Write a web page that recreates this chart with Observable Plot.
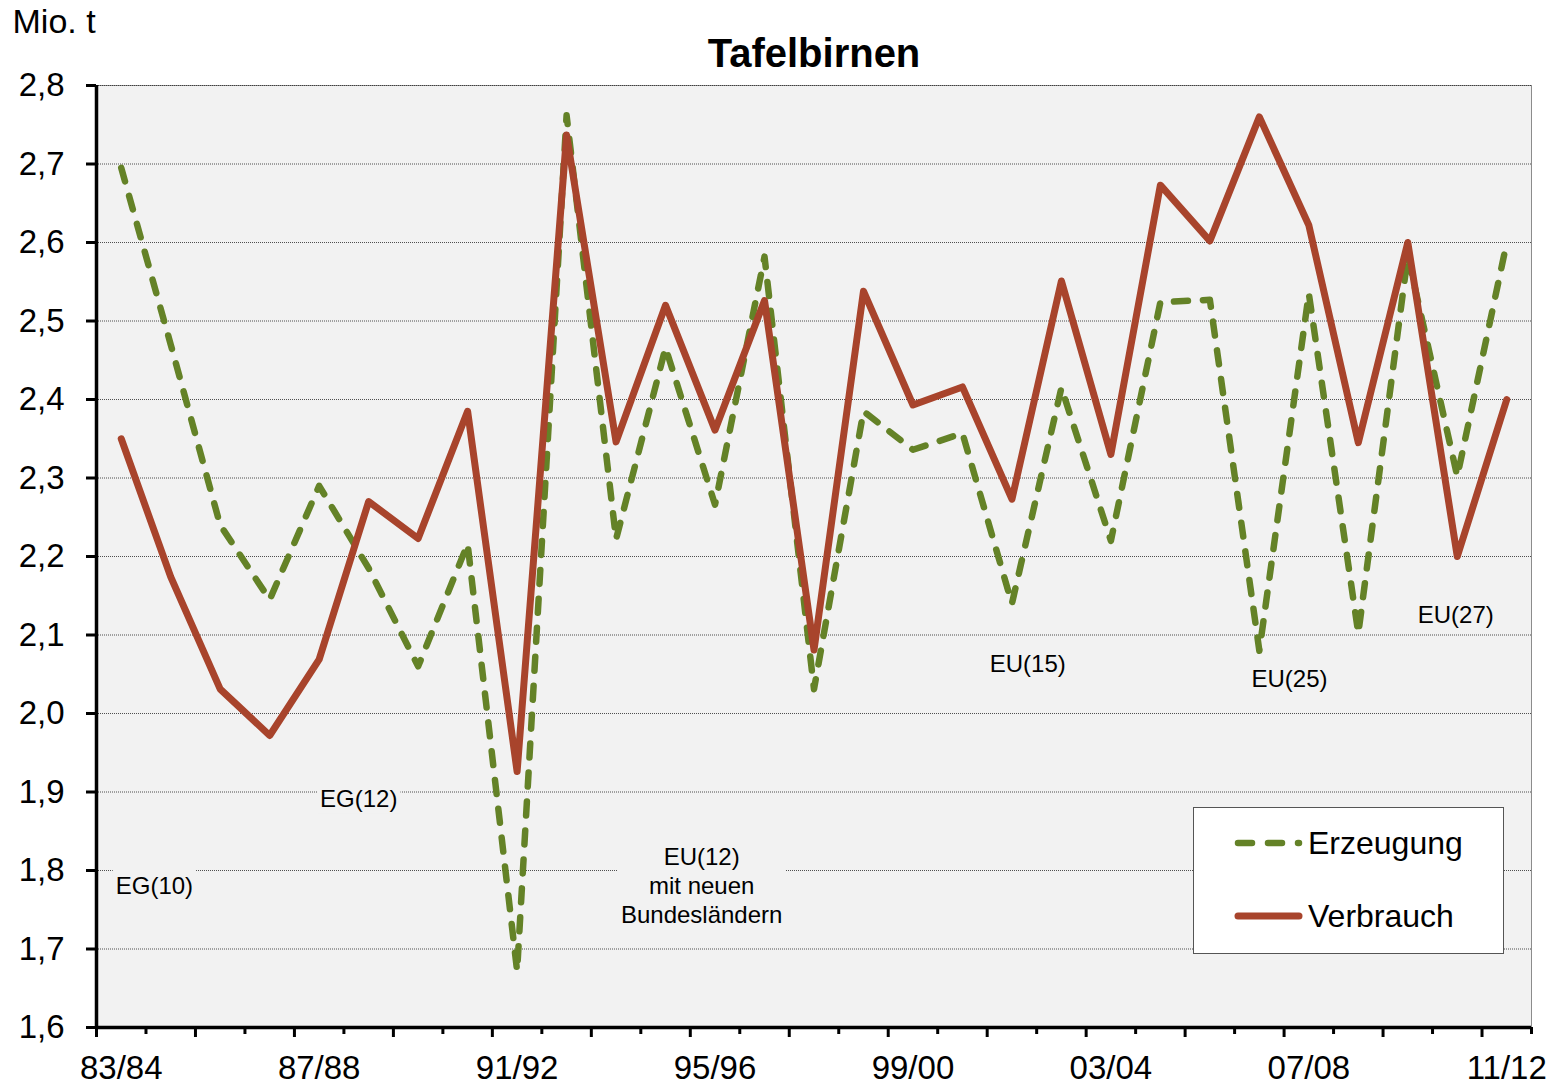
<!DOCTYPE html>
<html>
<head>
<meta charset="utf-8">
<script src="https://cdn.jsdelivr.net/npm/d3@7"></script>
<script src="https://cdn.jsdelivr.net/npm/@observablehq/plot@0.6"></script>
<style>
  html, body { margin: 0; padding: 0; background: #ffffff; }
  #chart { width: 1566px; height: 1085px; }
</style>
</head>
<body>
<div id="chart"></div>
<script>
// ---- data ----
const seasons = ["83/84","84/85","85/86","86/87","87/88","88/89","89/90","90/91","91/92","92/93",
                 "93/94","94/95","95/96","96/97","97/98","98/99","99/00","00/01","01/02","02/03",
                 "03/04","04/05","05/06","06/07","07/08","08/09","09/10","10/11","11/12"];
const erzeugung = [2.695, 2.47, 2.24, 2.145, 2.29, 2.185, 2.06, 2.216, 1.672, 2.762,
                   2.222, 2.466, 2.266, 2.582, 2.031, 2.385, 2.336, 2.357, 2.14, 2.415,
                   2.22, 2.524, 2.527, 2.08, 2.535, 2.102, 2.583, 2.302, 2.6];
const verbrauch = [2.35, 2.174, 2.031, 1.972, 2.069, 2.27, 2.223, 2.385, 1.926, 2.737,
                   2.346, 2.52, 2.361, 2.526, 2.081, 2.538, 2.393, 2.416, 2.273, 2.551,
                   2.33, 2.673, 2.602, 2.76, 2.622, 2.345, 2.6, 2.2, 2.4];
const yTicks = [1.6, 1.7, 1.8, 1.9, 2.0, 2.1, 2.2, 2.3, 2.4, 2.5, 2.6, 2.7, 2.8];
const xLabelSeasons = ["83/84","87/88","91/92","95/96","99/00","03/04","07/08","11/12"];
const seriesNames = ["Erzeugung", "Verbrauch"];
// annotation labels: text, season position (fractional index), value
const annoText = ["EG(10)", "EG(12)", "EU(12)\nmit neuen\nBundesländern", "EU(15)", "EU(25)", "EU(27)"];
const annoPos  = [0.67, 4.8, 11.73, 18.32, 23.61, 26.97];
const annoVal  = [1.782, 1.893, 1.782, 2.065, 2.046, 2.127];

const title = "Tafelbirnen";
const unit = "Mio. t";

// ---- styles ----
const GREEN = "#648227";
const RED = "#a8442c";
const FONT = "'Liberation Sans', Arial, Helvetica, sans-serif";
const fmt = d => d.toFixed(1).replace(".", ",");

const rows = seasons.map((s, i) => ({i, season: s, erz: erzeugung[i], ver: verbrauch[i]}));
const annos = annoText.map((t, k) => ({t, x: annoPos[k], y: annoVal[k]}));
const labelIdx = xLabelSeasons.map(s => seasons.indexOf(s));
const bounds = seasons.map((s, i) => i - 0.5).concat([seasons.length - 0.5]);
const boundsLong = bounds.filter((b, k) => k % 2 === 0);
const boundsShort = bounds.filter((b, k) => k % 2 === 1);

const chart = Plot.plot({
  width: 1566,
  height: 1085,
  marginLeft: 96,
  marginRight: 35,
  marginTop: 85,
  marginBottom: 58,
  style: {fontFamily: FONT, background: "#ffffff", color: "#000000", overflow: "visible"},
  x: {type: "linear", domain: [-0.5, seasons.length - 0.5]},
  y: {domain: [1.6, 2.8]},
  marks: [
    Plot.frame({fill: "#f2f2f2", stroke: "#8c8c8c", strokeWidth: 1}),
    Plot.gridY(yTicks.slice(1), {stroke: "#333333", strokeOpacity: 0.85, strokeDasharray: "1,1", strokeWidth: 1}),
    Plot.text(annos, {x: "x", y: "y", text: "t", fontSize: 24, lineHeight: 1.2, fill: "#000000", textAnchor: "middle"}),
    Plot.line(rows, {x: "i", y: "erz", stroke: GREEN, strokeWidth: 6.5, strokeDasharray: "14,15",
                     strokeLinecap: "round", strokeLinejoin: "round"}),
    Plot.line(rows, {x: "i", y: "ver", stroke: RED, strokeWidth: 7,
                     strokeLinecap: "round", strokeLinejoin: "round"}),
    Plot.ruleX([-0.5], {stroke: "#000000", strokeWidth: 3.5}),
    Plot.ruleY([1.6], {stroke: "#000000", strokeWidth: 3.5}),
    Plot.axisY(yTicks, {tickSize: 10, tickPadding: 22, tickFormat: fmt, fontSize: 33,
                        stroke: "#000000", strokeWidth: 3, label: null}),
    Plot.axisX(labelIdx, {tickSize: 0, tickPadding: 28, tickFormat: i => seasons[i], fontSize: 33, label: null}),
    Plot.axisX(boundsLong, {tickSize: 10, tickFormat: () => "", strokeWidth: 3, label: null}),
    Plot.axisX(boundsShort, {tickSize: 7, tickFormat: () => "", strokeWidth: 3, label: null}),
    Plot.text([unit], {frameAnchor: "top-left", dx: -84, dy: -77, textAnchor: "start", fontSize: 34, fill: "#000000"}),
    Plot.text([title], {frameAnchor: "top", dy: -47, fontSize: 40, fontWeight: "bold", fill: "#000000"})
  ]
});

document.getElementById("chart").appendChild(chart);

// background boxes behind annotation labels (hide grid lines beneath them)
const svg = d3.select(chart);
svg.selectAll("text").each(function() {
  const txt = this.textContent;
  const isAnno = annoText.some(t => t.replace(/\n/g, "") === txt);
  if (!isAnno) return;
  const b = this.getBBox();
  d3.select(this.parentNode).insert("rect", () => this)
    .attr("x", b.x - 3).attr("y", b.y - 2)
    .attr("width", b.width + 6).attr("height", b.height + 4)
    .attr("fill", "#f2f2f2")
    .attr("transform", this.getAttribute("transform"));
});

// legend
const lg = svg.append("g").attr("font-family", FONT).attr("text-anchor", "start");
lg.append("rect").attr("x", 1193.5).attr("y", 807.5).attr("width", 310).attr("height", 146)
  .attr("fill", "#ffffff").attr("stroke", "#555555").attr("stroke-width", 1);
const legendItems = [
  {name: seriesNames[0], color: GREEN, dash: "14,16", width: 6.5, y: 843},
  {name: seriesNames[1], color: RED, dash: null, width: 7, y: 916}
];
legendItems.forEach(d => {
  lg.append("line").attr("x1", 1238).attr("x2", 1299).attr("y1", d.y).attr("y2", d.y)
    .attr("stroke", d.color).attr("stroke-width", d.width).attr("stroke-linecap", "round")
    .attr("stroke-dasharray", d.dash);
  lg.append("text").attr("x", 1308).attr("y", d.y + 11).attr("font-size", 32)
    .attr("text-anchor", "start").attr("fill", "#000000").text(d.name);
});
</script>
</body>
</html>
